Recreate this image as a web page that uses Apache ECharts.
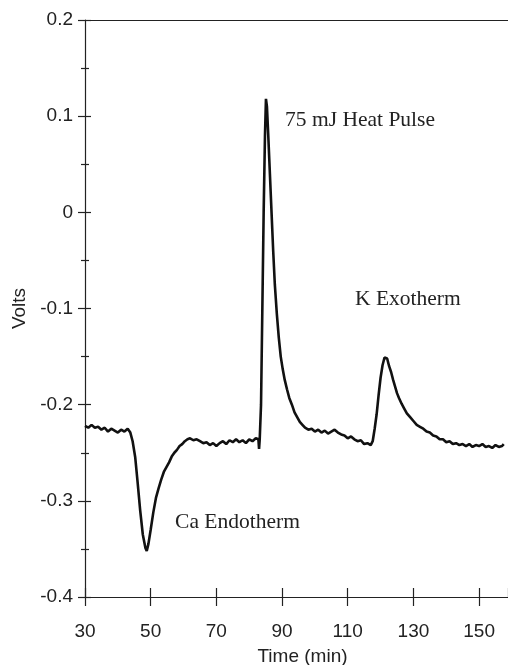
<!DOCTYPE html>
<html>
<head>
<meta charset="utf-8">
<script src="https://cdn.jsdelivr.net/npm/echarts@6/dist/echarts.min.js"></script>
<style>html,body{margin:0;padding:0;background:#fff;}#c{width:508px;height:665px;}</style>
</head>
<body>
<div id="c"></div>
<script>
var timeMin = [30,31,32,33,34,35,36,37,38,39,40,41,42,43,43.8,44.5,45.3,46,46.8,47.6,48.4,48.8,49.3,50,50.8,51.6,52.4,53.2,54,54.8,55.6,56.4,57.2,58,58.8,59.6,60.4,61.2,62,63,64,65,66,67,68,69,70,71,72,73,74,75,76,77,78,79,80,81,82,82.8,83,83.2,83.6,84,84.4,84.8,85.1,85.4,85.8,86.3,86.8,87.3,87.8,88.4,89,89.6,90.2,90.8,91.5,92.2,93,93.8,94.6,95.4,96.2,97,98,99,100,101,102,103,104,105,106,107,108,109,110,111,112,113,114,115,116,117,117.6,118.2,118.8,119.4,120,120.6,121.2,121.6,122,122.6,123.2,123.8,124.4,125,125.6,126.4,127.2,128,129,130,131,132,133,134,135,136,137,138,139,140,141,142,143,144,145,146,147,148,149,150,151,152,153,154,155,156,157,157.5];
var volts = [-0.222,-0.224,-0.221,-0.224,-0.223,-0.226,-0.224,-0.228,-0.225,-0.227,-0.229,-0.226,-0.228,-0.225,-0.229,-0.238,-0.255,-0.28,-0.31,-0.335,-0.349,-0.352,-0.345,-0.33,-0.312,-0.297,-0.287,-0.278,-0.27,-0.265,-0.26,-0.254,-0.25,-0.247,-0.243,-0.241,-0.238,-0.236,-0.235,-0.237,-0.236,-0.238,-0.24,-0.239,-0.242,-0.24,-0.243,-0.24,-0.238,-0.241,-0.237,-0.239,-0.236,-0.239,-0.237,-0.24,-0.236,-0.238,-0.235,-0.236,-0.246,-0.236,-0.2,-0.1,0.0,0.08,0.118,0.11,0.08,0.04,0.0,-0.04,-0.075,-0.105,-0.13,-0.15,-0.163,-0.174,-0.184,-0.193,-0.2,-0.208,-0.213,-0.218,-0.221,-0.224,-0.226,-0.225,-0.228,-0.226,-0.229,-0.227,-0.23,-0.228,-0.226,-0.229,-0.231,-0.232,-0.235,-0.233,-0.236,-0.238,-0.237,-0.241,-0.24,-0.242,-0.238,-0.225,-0.21,-0.19,-0.172,-0.159,-0.151,-0.149,-0.152,-0.16,-0.166,-0.174,-0.181,-0.188,-0.193,-0.199,-0.204,-0.209,-0.213,-0.217,-0.221,-0.223,-0.225,-0.228,-0.229,-0.232,-0.233,-0.236,-0.236,-0.239,-0.238,-0.241,-0.24,-0.242,-0.241,-0.243,-0.241,-0.244,-0.242,-0.243,-0.241,-0.244,-0.243,-0.245,-0.242,-0.244,-0.243,-0.241];
var xTickLabels = ['30','50','70','90','110','130','150'];
var yTickLabels = ['-0.4','-0.3','-0.2','-0.1','0','0.1','0.2'];
var annotations = [
  {text: '75 mJ Heat Pulse', t: 89.4, v: 0.096},
  {text: 'K Exotherm', t: 110.7, v: -0.091},
  {text: 'Ca Endotherm', t: 55.9, v: -0.322}
];

var chart = echarts.init(document.getElementById('c'));
var pts = timeMin.map(function(t,i){return [t, volts[i]];});
var axisColor = '#222';
var labelFont = 'Liberation Sans';
var xAxisBase = {
  type: 'value', min: 30, max: 158.8, interval: 20, position: 'bottom',
  axisLine: {show: false, onZero: false}, splitLine: {show: false}
};
var yAxisBase = {
  type: 'value', min: -0.4, max: 0.2, interval: 0.1, position: 'left',
  axisLine: {show: false, onZero: false}, splitLine: {show: false}
};
chart.setOption({
  animation: false,
  backgroundColor: '#fff',
  grid: {left: 85, right: 0, top: 20, bottom: 68, show: false, containLabel: false, outerBoundsMode: 'none'},
  xAxis: [
    Object.assign({}, xAxisBase, {
      name: 'Time (min)', nameLocation: 'middle', nameGap: 50,
      nameTextStyle: {fontFamily: labelFont, fontSize: 19, color: axisColor, padding: [0, 0, 0, 12]},
      axisLine: {show: true, onZero: false, lineStyle: {color: axisColor, width: 1.2}},
      axisTick: {show: true, length: 9, inside: false, lineStyle: {color: axisColor, width: 1.2}},
      axisLabel: {show: true, margin: 25, fontFamily: labelFont, fontSize: 19, color: axisColor,
        showMaxLabel: false,
        formatter: function(v){ return xTickLabels.indexOf(String(v)) >= 0 ? String(v) : ''; }}
    }),
    Object.assign({}, xAxisBase, {
      axisTick: {show: true, length: 9, inside: true, lineStyle: {color: axisColor, width: 1.2}},
      axisLabel: {show: false}
    }),
    Object.assign({}, xAxisBase, {
      position: 'top',
      axisLine: {show: true, onZero: false, lineStyle: {color: axisColor, width: 1.2}},
      axisTick: {show: false}, axisLabel: {show: false}
    })
  ],
  yAxis: [
    Object.assign({}, yAxisBase, {
      name: 'Volts', nameLocation: 'middle', nameGap: 55, nameRotate: 90,
      nameTextStyle: {fontFamily: labelFont, fontSize: 19, color: axisColor},
      axisLine: {show: true, onZero: false, lineStyle: {color: axisColor, width: 1.2}},
      axisTick: {show: true, length: 7, inside: false, lineStyle: {color: axisColor, width: 1.2}},
      minorTick: {show: true, splitNumber: 2, length: 4, lineStyle: {color: axisColor, width: 1.2}},
      axisLabel: {show: true, margin: 12, fontFamily: labelFont, fontSize: 19, color: axisColor,
        formatter: function(v){ var s = String(Math.round(v*10)/10); return yTickLabels.indexOf(s) >= 0 ? s : ''; }}
    }),
    Object.assign({}, yAxisBase, {
      axisTick: {show: true, length: 6, inside: true, lineStyle: {color: axisColor, width: 1.2}},
      minorTick: {show: true, splitNumber: 2, length: 4, lineStyle: {color: axisColor, width: 1.2}},
      axisLabel: {show: false}
    })
  ],
  series: [{
    type: 'line', data: pts, xAxisIndex: 0, yAxisIndex: 0,
    showSymbol: false, symbol: 'none', smooth: false,
    lineStyle: {color: '#111', width: 2.6},
    markPoint: {
      symbol: 'rect', symbolSize: 0,
      label: {show: true, position: 'right', fontFamily: 'Liberation Serif', fontSize: 21.5, color: '#222', formatter: '{b}'},
      data: annotations.map(function(a){ return {name: a.text, coord: [a.t, a.v]}; })
    }
  }]
});
</script>
</body>
</html>
